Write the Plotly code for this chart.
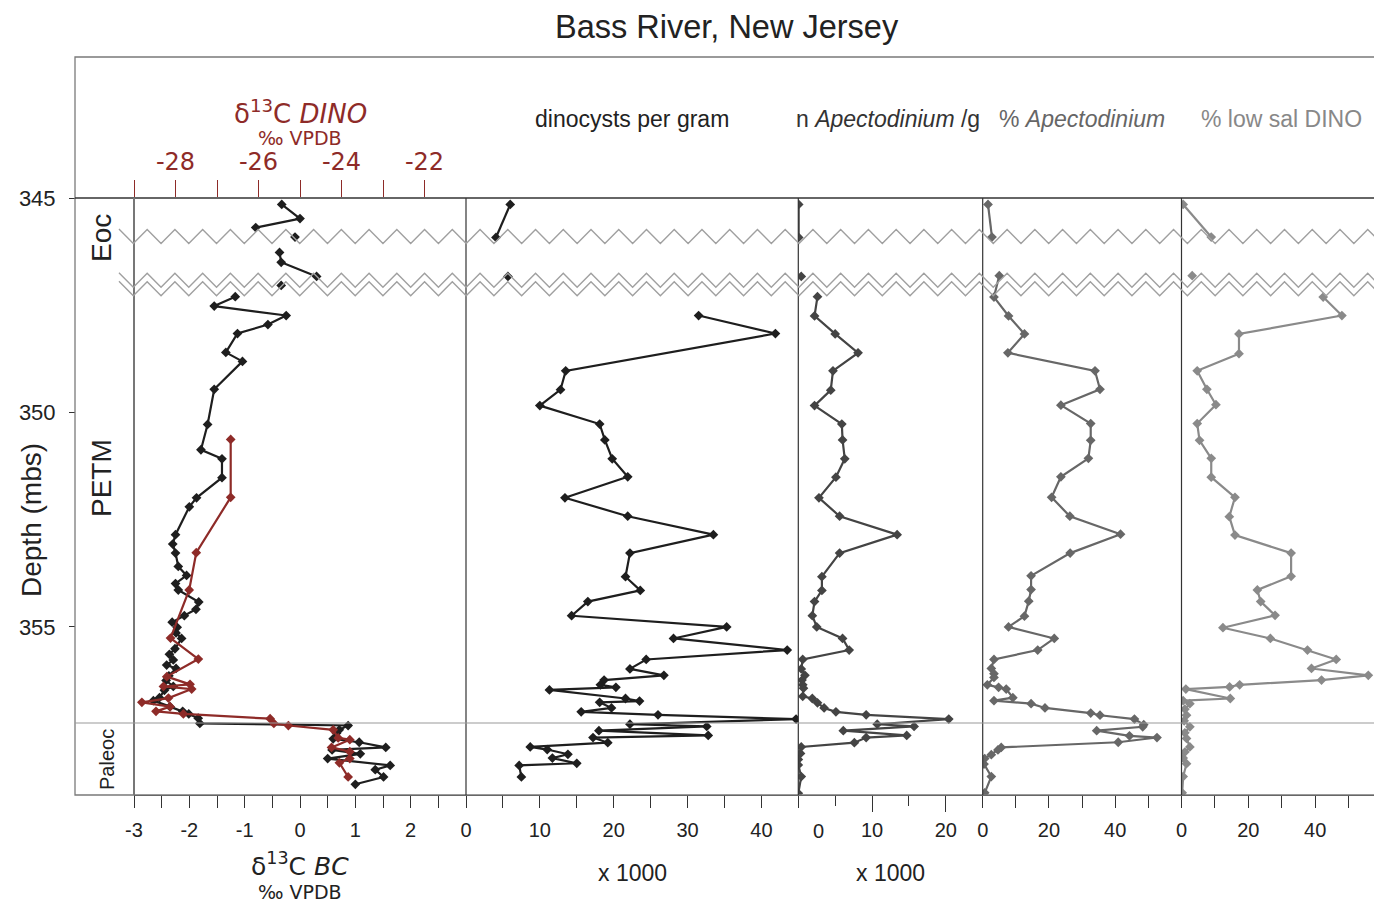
import plotly.graph_objects as go

# ------------------------------------------------------------------ data
# Panel 1 (black): d13C bulk carbonate (BC), per mil VPDB
bc_depth = [345.15, 345.48, 345.69, None, 345.91, None, 346.27, 346.50, 346.83, None, 347.04, None,
            347.30, 347.52, 347.74, 347.95, 348.16, 348.60, 348.81, 349.46, 350.28, 350.87, 351.08,
            351.52, 351.99, 352.20, 352.85, 353.07, 353.28, 353.59, 353.80, 353.99, 354.14, 354.42,
            354.59, 354.74, 354.89, 355.01, 355.14, 355.27, 355.51, 355.64, 355.77, 355.89, 355.97,
            356.14, 356.25, 356.39, 356.48, 356.65, 356.72, 356.86, 356.97, 357.03, 357.13, 357.25,
            357.30, 357.40, 357.48, 357.61, 357.69, 357.81, 357.87, 357.96, 358.07, 358.23, 358.33,
            358.50, 358.67]
bc_value = [-0.33, 0.00, -0.80, None, -0.09, None, -0.37, -0.34, 0.30, None, -0.34, None,
            -1.17, -1.55, -0.25, -0.58, -1.13, -1.34, -1.04, -1.55, -1.67, -1.79, -1.41,
            -1.41, -1.87, -2.00, -2.25, -2.30, -2.25, -2.20, -2.05, -2.25, -2.20, -1.83,
            -1.88, -2.09, -2.31, -2.22, -2.24, -2.14, -2.26, -2.36, -2.29, -2.41, -2.24,
            -2.37, -2.42, -2.29, -2.45, -2.54, -2.65, -2.35, -2.12, -2.01, -1.84, -1.81,
            0.87, 0.71, 0.66, 0.60, 1.07, 1.55, 0.58, 1.09, 0.50, 1.63, 1.36,
            1.51, 1.00]

# Panel 1 (red): d13C dinocysts (DINO), per mil VPDB
dino_depth = [350.63, 351.98, 353.27, 354.14, 355.26, 355.75, 356.16, 356.34, 356.39, 356.45,
              356.66, 356.76, 356.86, 356.97, 357.03, 357.14, 357.25, 357.30, 357.40, 357.59,
              357.63, 357.81, 357.91, 358.07, 358.17, 358.50]
dino_value = [-26.67, -26.67, -27.50, -27.67, -28.12, -27.45, -28.21, -27.65, -28.29, -27.61,
              -28.17, -28.81, -28.13, -28.47, -27.81, -25.72, -25.63, -25.28, -24.20, -24.08,
              -23.80, -24.24, -23.80, -23.80, -24.05, -23.84]

# Panel 2: dinocysts per gram (x 1000)
cyst_depth = [345.15, 345.92, None, 346.83, None,
              347.74, 348.16, 349.03, 349.47, 349.84, 350.27, 350.64, 351.08, 351.50, 351.99,
              352.42, 352.85, 353.28, 353.83, 354.15, 354.41, 354.74, 355.00, 355.27, 355.54,
              355.76, 355.98, 356.13, 356.24, 356.35, 356.41, 356.47, 356.67, 356.73, 356.76,
              356.89, 356.98, 357.05, 357.15, 357.27, 357.32, 357.42, 357.53, 357.58, 357.70,
              357.80, 357.86, 357.97, 358.06, 358.18, 358.23, 358.50]
cyst_value = [5.99, 4.06, None, 5.68, None,
              31.5, 41.9, 13.5, 12.8, 10.0, 18.1, 18.8, 19.8, 21.9, 13.4,
              21.9, 33.5, 22.2, 21.6, 23.6, 16.5, 14.3, 35.3, 28.1, 43.5,
              24.4, 22.2, 26.8, 18.7, 18.2, 20.3, 11.3, 21.6, 23.5, 18.1,
              19.7, 15.6, 26.0, 44.7, 22.2, 32.6, 18.0, 32.8, 17.2, 19.2,
              8.7, 11.0, 13.8, 11.7, 15.0, 7.2, 7.5]

# Panel 3: n Apectodinium per gram (x 1000)
apn_depth = [345.15, 345.92, None, 346.83, None,
             347.30, 347.75, 348.17, 348.61, 349.03, 349.48, 349.84, 350.27, 350.64, 351.08,
             351.51, 351.99, 352.42, 352.85, 353.28, 353.83, 354.15, 354.41, 354.74, 355.00,
             355.27, 355.54, 355.76, 355.98, 356.13, 356.24, 356.35, 356.43, 356.62, 356.67,
             356.77, 356.89, 356.98, 357.05, 357.15, 357.27, 357.32, 357.42, 357.53, 357.58,
             357.70, 357.80, 357.95, 358.09, 358.22, 358.49, 358.88]
apn_value = [0.05, 0.05, None, 0.4, None,
             2.6, 2.2, 5.0, 8.1, 4.7, 4.4, 2.2, 5.9, 6.0, 6.3,
             5.1, 2.8, 5.6, 13.4, 5.6, 3.2, 3.2, 2.2, 1.9, 2.5,
             6.0, 6.9, 0.6, 0.4, 0.9, 0.5, 0.6, 0.7, 0.6, 1.9,
             2.6, 3.5, 5.1, 9.2, 20.4, 10.7, 15.7, 6.1, 14.7, 9.2,
             7.6, 0.4, 0.3, 0.0, 0.0, 0.4, 0.0]

# Panel 4: % Apectodinium
app_depth = [345.15, 345.91, None,
             346.81, 347.31, 347.75, 348.17, 348.61, 349.03, 349.46, 349.83, 350.26, 350.65,
             351.07, 351.50, 351.98, 352.42, 352.84, 353.28, 353.81, 354.13, 354.40, 354.75,
             355.00, 355.27, 355.54, 355.76, 355.97, 356.09, 356.18, 356.35, 356.41, 356.45,
             356.65, 356.72, 356.79, 356.89, 357.01, 357.06, 357.15, 357.28, 357.33, 357.42,
             357.54, 357.58, 357.69, 357.81, 357.87, 357.98, 358.07, 358.20, 358.49, 358.87]
app_value = [1.6, 2.8, None,
             5.0, 3.4, 7.8, 12.6, 7.6, 33.9, 35.4, 23.6, 32.6, 32.6,
             31.9, 23.6, 20.8, 26.3, 41.6, 26.4, 14.6, 14.6, 13.9, 12.6,
             7.8, 21.6, 16.6, 3.4, 2.6, 3.4, 3.4, 1.4, 4.8, 7.1,
             9.1, 3.4, 14.6, 18.8, 32.6, 35.4, 45.8, 48.6, 48.3, 34.4,
             44.3, 52.6, 40.9, 5.6, 4.6, 2.6, 0.6, 0.4, 2.6, 0.6]

# Panel 5: % low salinity dinocysts
lsd_depth = [345.15, 345.91, None, 346.81, None,
             347.31, 347.74, 348.17, 348.63, 349.03, 349.46, 349.82, 350.26, 350.65, 351.07,
             351.51, 351.98, 352.43, 352.86, 353.28, 353.82, 354.14, 354.41, 354.73, 355.02,
             355.27, 355.54, 355.76, 355.97, 356.13, 356.24, 356.35, 356.40, 356.45, 356.67,
             356.72, 356.79, 356.92, 357.06, 357.19, 357.33, 357.47, 357.60, 357.80, 357.92,
             358.06, 358.19, 358.49, 358.87]
lsd_value = [0.5, 8.9, None, 3.2, None,
             42.4, 48.0, 17.2, 17.2, 4.7, 7.6, 10.3, 4.7, 5.4, 8.9,
             8.9, 16.0, 14.3, 16.0, 32.8, 32.8, 22.7, 23.7, 28.0, 12.4,
             26.6, 37.7, 46.3, 38.9, 55.9, 41.9, 17.4, 14.4, 1.3, 14.6,
             0.5, 2.5, 1.0, 1.5, 0.8, 2.5, 1.0, 1.5, 2.5, 1.0,
             0.5, 1.5, 0.5, 0.2]

# axis tick values / labels
depth_ticks = [345, 350, 355]
bc_major = [-3, -2, -1, 0, 1, 2]
bc_labels = ["-3", "-2", "-1", "0", "1", "2"]
bc_minor = [-2.5, -1.5, -0.5, 0.5, 1.5, 2.5, 3]
dino_major = [-28, -26, -24, -22]
dino_labels = ["-28", "-26", "-24", "-22"]
dino_minor = [-29, -27, -25, -23]
cyst_major = [0, 10, 20, 30, 40]
cyst_minor = [5, 15, 25, 35, 45]
apn_major = [10, 20]
apn_minor = [5, 15]
pct_major = [0, 20, 40]
pct_minor = [10, 30, 50, 60]

# ------------------------------------------------------------------ geometry (reference pixels)
OFF = 8                      # page body margin of the html page
W, H = 1382 - OFF, 903 - OFF
L, R, T, B = 75, 1382, 57, 795
AX_TOP = 198
EDGES = [134, 466, 798.3, 982.7, 1181.5, 1382]


def px(x):
    return (x - L) / (R - L)


def py(y):
    return (B - y) / (B - T)


RED = "#8e2b28"
C1 = "#1e1e1e"
C3 = "#444444"
C4 = "#676767"
C5 = "#8a8a8a"
SANS = "Liberation Sans, Arial, sans-serif"
DEJ = "DejaVu Sans, Verdana, sans-serif"

fig = go.Figure()


def series(x, y, axis, color, size=7.5):
    fig.add_trace(go.Scatter(
        x=x, y=y, xaxis=axis, yaxis="y", mode="lines+markers",
        line=dict(color=color, width=2.2), connectgaps=False,
        marker=dict(symbol="diamond", size=size, color=color),
        showlegend=False, hoverinfo="x+y"))


series(bc_value, bc_depth, "x", C1)
series(dino_value, dino_depth, "x6", RED)
series(cyst_value, cyst_depth, "x2", C1)
series(apn_value, apn_depth, "x3", C3)
series(app_value, app_depth, "x4", C4)
series(lsd_value, lsd_depth, "x5", C5)

ydom = [0, py(AX_TOP)]
tickfont = dict(family=SANS, size=20, color="#222")


def dom(i):
    return [px(EDGES[i]), px(EDGES[i + 1])]


def minor(vals, ln, color="#333"):
    return dict(tickvals=vals, ticklen=ln, ticks="outside", tickcolor=color, tickwidth=1)


base = dict(anchor="y", showgrid=False, zeroline=False, showline=True,
            linecolor="#333", linewidth=1, tickcolor="#333", tickwidth=1,
            ticks="outside", tickfont=tickfont, fixedrange=True, tickmode="array")

fig.update_layout(
    xaxis=dict(base, domain=dom(0), range=[-3, 3], tickvals=bc_major, ticktext=bc_labels,
               ticklen=12, minor=minor(bc_minor, 12), ticklabelstandoff=5),
    xaxis2=dict(base, domain=dom(1), range=[0, 45], tickvals=cyst_major, ticklen=12,
                minor=minor(cyst_minor, 12), ticklabelstandoff=5),
    xaxis3=dict(base, domain=dom(2), range=[0, 25], tickvals=apn_major, ticklen=16,
                minor=minor(apn_minor, 10), ticklabelstandoff=1),
    xaxis4=dict(base, domain=dom(3), range=[0, 60], tickvals=pct_major, ticklen=12,
                minor=minor(pct_minor, 12), ticklabelstandoff=5),
    xaxis5=dict(base, domain=dom(4), range=[0, 60], tickvals=pct_major, ticklen=12,
                minor=minor(pct_minor, 12), ticklabelstandoff=5),
    xaxis6=dict(base, overlaying="x", side="top", range=[-29, -21], tickvals=dino_major,
                ticktext=dino_labels, ticklen=17, tickcolor=RED,
                minor=minor(dino_minor, 17, RED), showline=False, ticklabelstandoff=0,
                tickfont=dict(family=DEJ, size=24, color=RED)),
    xaxis7=dict(base, overlaying="x2", side="top", range=[0, 45], showline=False,
                tickvals=[0, 10, 20, 30, 40], ticklen=17, showticklabels=False,
                minor=minor([5, 15, 25, 35], 9)),
    xaxis8=dict(base, overlaying="x3", side="top", range=[0, 25], showline=False,
                tickvals=[0, 10, 20], ticklen=17, showticklabels=False,
                minor=minor([5, 15], 9)),
    xaxis9=dict(base, overlaying="x4", side="top", range=[0, 60], showline=False,
                tickvals=[0, 20, 40], ticklen=17, showticklabels=False,
                minor=minor([10, 30, 50], 9)),
    xaxis10=dict(base, overlaying="x5", side="top", range=[0, 60], showline=False,
                 tickvals=[0, 20, 40, 60], ticklen=17, showticklabels=False,
                 minor=minor([10, 30, 50], 9)),
    yaxis=dict(domain=ydom, range=[358.92, 345], anchor="free", position=0,
               tickmode="array", tickvals=depth_ticks, ticks="outside", ticklen=6,
               tickcolor="#333", showgrid=False, zeroline=False, showline=False,
               tickfont=dict(family=SANS, size=22, color="#222"), ticklabelstandoff=9,
               fixedrange=True),
    width=W, height=H,
    margin=dict(l=L - OFF, r=W - (R - OFF), t=T - OFF, b=H - (B - OFF), pad=0),
    paper_bgcolor="white", plot_bgcolor="white",
    showlegend=False,
)

# ------------------------------------------------------------------ decorations
shapes = []
shapes.append(dict(type="rect", xref="paper", yref="paper", x0=0, x1=1, y0=0, y1=1,
                   line=dict(color="#7a7a7a", width=1.3), layer="above"))
shapes.append(dict(type="line", xref="paper", yref="paper", x0=0, x1=1,
                   y0=py(AX_TOP), y1=py(AX_TOP), line=dict(color="#333", width=1.3)))
shapes.append(dict(type="line", xref="paper", yref="paper", x0=px(134), x1=px(134),
                   y0=0, y1=py(AX_TOP), line=dict(color="#777", width=2)))
for e in EDGES[1:-1]:
    shapes.append(dict(type="line", xref="paper", yref="paper", x0=px(e), x1=px(e),
                       y0=0, y1=py(AX_TOP), line=dict(color="#333", width=1.2)))
shapes.append(dict(type="line", xref="paper", yref="paper", x0=0, x1=1,
                   y0=py(723), y1=py(723), line=dict(color="#9a9a9a", width=1.2)))


def zigzag(y_peak, amp, x0=119.0, x1=1382.0, period=27.74, valley0=133.3):
    half = period / 2
    k = 0
    while valley0 + k * half > x0:
        k -= 1
    pts = []
    while True:
        x = valley0 + k * half
        y = y_peak + amp if k % 2 == 0 else y_peak
        pts.append((x, y))
        if x >= x1:
            break
        k += 1
    (xa, ya), (xb, yb) = pts[0], pts[1]
    pts[0] = (x0, ya + (yb - ya) * (x0 - xa) / (xb - xa))
    (xa, ya), (xb, yb) = pts[-2], pts[-1]
    pts[-1] = (x1, ya + (yb - ya) * (x1 - xa) / (xb - xa))
    return "M " + " L ".join(f"{px(x):.5f},{py(y):.5f}" for x, y in pts)


for yp in (229.5, 273.3, 281.8):
    shapes.append(dict(type="path", xref="paper", yref="paper", path=zigzag(yp, 14),
                       line=dict(color="#a0a0a0", width=1.4)))
fig.update_layout(shapes=shapes)


# ------------------------------------------------------------------ text
def note(text, x, y, size, color="#222", family=SANS, angle=0):
    fig.add_annotation(text=text, x=px(x), y=py(y), xref="paper", yref="paper",
                       showarrow=False, textangle=angle, xanchor="center", yanchor="middle",
                       font=dict(family=family, size=size, color=color))


note("Bass River, New Jersey", 727, 27, 32.5)
note("δ<sup>13</sup>C <i>DINO</i>", 300, 112, 26, RED, DEJ)
note("‰ VPDB", 300, 138, 19, RED, DEJ)
note("dinocysts per gram", 632, 119, 23)
note("n <i>Apectodinium</i> /g", 888, 119, 23, "#333")
note("% <i>Apectodinium</i>", 1082, 119, 23, "#666")
note("% low sal DINO", 1281, 119, 23, "#888")
note("δ<sup>13</sup>C <i>BC</i>", 300, 864, 25, "#222", DEJ)
note("‰ VPDB", 300, 892, 19, "#222", DEJ)
note("x 1000", 632, 873, 23)
note("x 1000", 890, 873, 23)
note("0", 818, 831, 20)
note("Depth (mbs)", 31, 520, 28, angle=-90)
note("Eoc", 102, 238, 28, angle=-90)
note("PETM", 102, 478, 28, angle=-90)
note("Paleoc", 107, 760, 20, angle=-90)

fig.write_html("out.html")
